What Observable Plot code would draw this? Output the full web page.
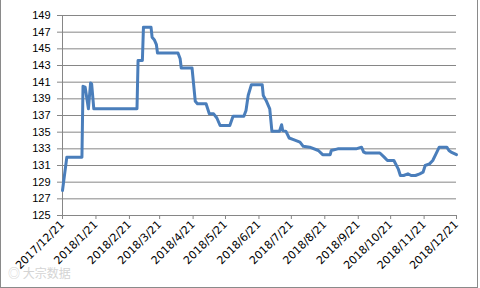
<!DOCTYPE html>
<html><head><meta charset="utf-8">
<script src="https://cdn.jsdelivr.net/npm/d3@7"></script>
<script src="https://cdn.jsdelivr.net/npm/@observablehq/plot@0.6"></script>
<style>
body{margin:0;background:#fff;}
#wrap{position:relative;width:480px;height:288px;overflow:hidden;}
#border{position:absolute;left:0;top:0;width:476px;height:287px;border-left:1px solid #8a8a8a;border-right:1px solid #8a8a8a;border-bottom:1px solid #8a8a8a;pointer-events:none;}
#wm{position:absolute;left:8px;top:264px;font:12px "Noto Sans CJK SC",sans-serif;color:#d4d4d4;}
svg{position:absolute;left:0;top:0;}
</style></head>
<body><div id="wrap"><div id="border"></div><div id="wm">◎ 大宗数据</div></div>
<script>
const dates = ["2017-12-21","2017-12-25","2018-01-08","2018-01-09","2018-01-11","2018-01-14","2018-01-16","2018-01-17","2018-01-19",
"2018-02-28","2018-03-01","2018-03-05","2018-03-06","2018-03-13","2018-03-14","2018-03-16","2018-03-18","2018-03-19",
"2018-04-07","2018-04-09","2018-04-10","2018-04-20","2018-04-23","2018-04-25","2018-05-03","2018-05-06","2018-05-10",
"2018-05-13","2018-05-16","2018-05-25","2018-05-28","2018-06-07","2018-06-09","2018-06-11","2018-06-14","2018-06-24",
"2018-06-25","2018-06-28","2018-07-01","2018-07-03","2018-07-10","2018-07-12","2018-07-13","2018-07-16","2018-07-19",
"2018-07-23","2018-07-29","2018-08-01","2018-08-07","2018-08-15","2018-08-19","2018-08-26","2018-08-27","2018-09-02",
"2018-09-19","2018-09-24","2018-09-26","2018-09-28","2018-10-11","2018-10-15","2018-10-18","2018-10-24","2018-10-28",
"2018-10-30","2018-11-02","2018-11-06","2018-11-09","2018-11-13","2018-11-17","2018-11-20","2018-11-22","2018-11-26",
"2018-11-29","2018-12-02","2018-12-05","2018-12-12","2018-12-14","2018-12-16","2018-12-21"];
const values = [128.0,132.0,132.0,140.5,140.4,137.8,140.9,140.8,137.8,
137.8,143.6,143.6,147.6,147.6,146.4,146.1,145.5,144.5,
144.5,143.8,142.7,142.7,138.7,138.4,138.4,137.2,137.2,
136.7,135.8,135.8,136.9,136.9,137.6,139.4,140.7,140.7,
139.4,138.7,137.8,135.1,135.1,135.9,135.2,135.1,134.3,
134.1,133.8,133.3,133.2,132.8,132.3,132.3,132.8,133.0,
133.0,133.2,132.6,132.5,132.5,132.0,131.6,131.6,130.6,
129.8,129.8,130.0,129.8,129.8,130.0,130.2,131.0,131.2,
131.6,132.4,133.2,133.2,132.8,132.6,132.3];
const xTicks = ["2017-12-21","2018-01-21","2018-02-21","2018-03-21","2018-04-21","2018-05-21","2018-06-21",
"2018-07-21","2018-08-21","2018-09-21","2018-10-21","2018-11-21","2018-12-21"];
const yTicks = [125,127,129,131,133,135,137,139,141,143,145,147,149];

const data = dates.map((d,i)=>({date:new Date(d+"T00:00:00Z"), value:values[i]}));
const tickDates = xTicks.map(d=>new Date(d+"T00:00:00Z"));
const fmt = d3.utcFormat("%Y/%-m/%d");

const chart = Plot.plot({
  width:480, height:288,
  marginLeft:62, marginRight:24, marginTop:15, marginBottom:73,
  style:{fontFamily:"'Liberation Sans', Arial, sans-serif", fontSize:"11px", color:"#000", background:"transparent"},
  x:{type:"utc", domain:[tickDates[0], tickDates[tickDates.length-1]]},
  y:{domain:[125,149]},
  marks:[
    Plot.gridY(yTicks, {stroke:"#868686", strokeOpacity:1, strokeWidth:1}),
    Plot.axisY(yTicks, {tickSize:5, tickPadding:7, stroke:"#868686", label:null, fontSize:11, fill:"#000"}),
    Plot.ruleX([tickDates[0]], {stroke:"#868686"}),
    Plot.ruleY([125], {stroke:"#868686"}),
    Plot.axisX(tickDates, {tickSize:4, tickPadding:3, tickRotate:-45, tickFormat:fmt, stroke:"#868686", label:null, fontSize:11, fontFamily:"'DejaVu Sans', sans-serif", fill:"#000"}),
    Plot.line(data, {x:"date", y:"value", stroke:"#4a7ebb", strokeWidth:3, strokeLinejoin:"round"})
  ]
});
document.getElementById("wrap").appendChild(chart);
</script></body></html>
